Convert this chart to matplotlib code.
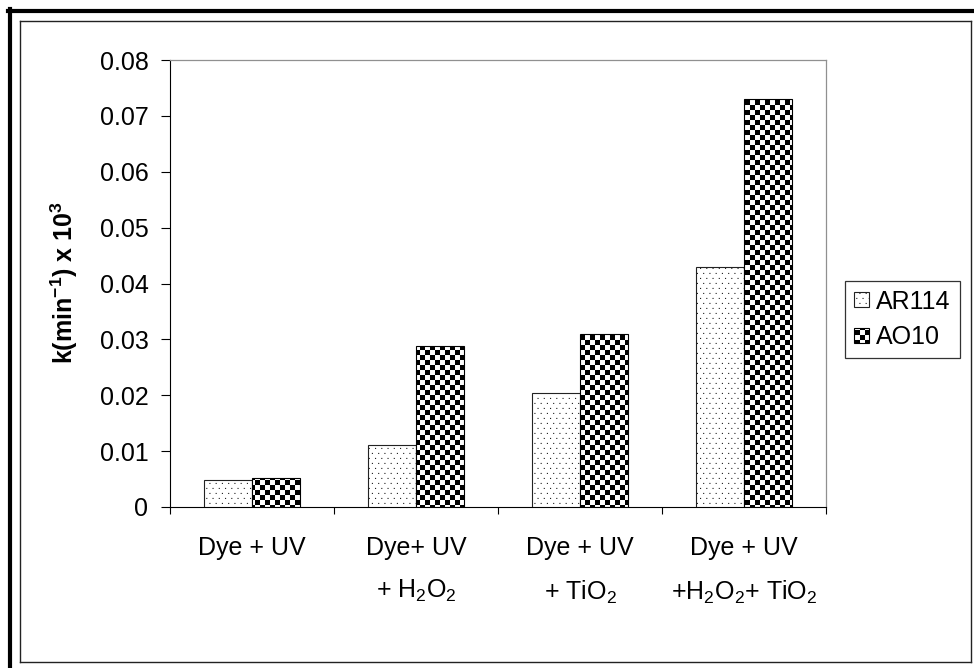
import warnings
warnings.filterwarnings("ignore")
import matplotlib
matplotlib.use("Agg")
import matplotlib.pyplot as plt
import matplotlib.hatch as mhatch
from matplotlib.path import Path
from matplotlib.lines import Line2D
import numpy as np

# ---------------- data ----------------
categories = ["Dye + UV",
              "Dye+ UV\n+ H$_2$O$_2$",
              "Dye + UV\n+ TiO$_2$",
              "Dye + UV\n+H$_2$O$_2$+ TiO$_2$"]
series_names = ["AR114", "AO10"]
ar114 = [0.0049, 0.0111, 0.0204, 0.0429]
ao10 = [0.0052, 0.0288, 0.0309, 0.0731]
yticks = [0, 0.01, 0.02, 0.03, 0.04, 0.05, 0.06, 0.07, 0.08]
ytick_labels = ["0", "0.01", "0.02", "0.03", "0.04", "0.05", "0.06", "0.07", "0.08"]
ylabel = r"k(min$^{\mathbf{-1}}$) x 10$^{\mathbf{3}}$"

# ---------------- custom hatch patterns ----------------
class CheckerHatch(mhatch.HatchPatternBase):
    N = 20
    def __init__(self, hatch, density):
        n = hatch.count('C')
        self.cells = ([(i, j) for i in range(self.N) for j in range(self.N)
                       if (i + j) % 2 == 0] if n else [])
        self.num_vertices = len(self.cells) * 5

    def set_vertices_and_codes(self, vertices, codes):
        s = 1.0 / self.N
        k = 0
        for (i, j) in self.cells:
            x0, y0 = i * s, j * s
            vertices[k:k + 5] = [(x0, y0), (x0 + s, y0), (x0 + s, y0 + s),
                                 (x0, y0 + s), (x0, y0)]
            codes[k:k + 5] = [Path.MOVETO, Path.LINETO, Path.LINETO,
                              Path.LINETO, Path.CLOSEPOLY]
            k += 5


class DotHatch(mhatch.HatchPatternBase):
    ROWS = 20
    COLS = 16
    D = 0.011
    def __init__(self, hatch, density):
        n = hatch.count('D')
        pts = []
        if n:
            for j in range(self.ROWS):
                off = 0.5 / self.COLS if j % 2 else 0.0
                for i in range(self.COLS):
                    pts.append((i / self.COLS + off, j / self.ROWS + 0.01))
        self.pts = pts
        self.num_vertices = len(pts) * 5

    def set_vertices_and_codes(self, vertices, codes):
        d = self.D
        k = 0
        for (x0, y0) in self.pts:
            vertices[k:k + 5] = [(x0, y0), (x0 + d, y0), (x0 + d, y0 + d),
                                 (x0, y0 + d), (x0, y0)]
            codes[k:k + 5] = [Path.MOVETO, Path.LINETO, Path.LINETO,
                              Path.LINETO, Path.CLOSEPOLY]
            k += 5


mhatch._hatch_types.append(CheckerHatch)
mhatch._hatch_types.append(DotHatch)

# ---------------- style ----------------
plt.rcParams['font.family'] = ['Liberation Sans', 'DejaVu Sans']
plt.rcParams['mathtext.fontset'] = 'custom'
plt.rcParams['mathtext.rm'] = 'Liberation Sans'
plt.rcParams['mathtext.it'] = 'Liberation Sans:italic'
plt.rcParams['mathtext.bf'] = 'Liberation Sans:bold'
plt.rcParams['mathtext.default'] = 'regular'
plt.rcParams['hatch.linewidth'] = 0.01

W, H = 974, 668
fig = plt.figure(figsize=(W / 100, H / 100), dpi=100)
fig.patch.set_facecolor('white')

def fx(px):
    return px / W

def fy(py):
    return 1 - py / H

ax = fig.add_axes([fx(170), fy(507), (826 - 170) / W, (507 - 60) / H])

x = np.arange(len(categories))
bw = 0.29
b1 = ax.bar(x - bw / 2, ar114, bw, facecolor='white', edgecolor='#222222',
            linewidth=0.8, hatch='D', label=series_names[0], zorder=3)
b2 = ax.bar(x + bw / 2, ao10, bw, facecolor='white', edgecolor='black',
            linewidth=0.8, hatch='C', label=series_names[1], zorder=3)

ax.set_xlim(-0.5, len(categories) - 0.5)
ax.set_ylim(0, 0.08)
ax.set_yticks(yticks)
ax.set_yticklabels(ytick_labels, fontsize=18)
ax.tick_params(axis='y', direction='out', length=6.5, width=0.8, pad=9)

ax.set_xticks(np.arange(len(categories) + 1) - 0.5)
ax.set_xticklabels([])
ax.set_xticks(x, minor=True)
ax.set_xticklabels(categories, minor=True, fontsize=18, linespacing=1.9,
                   multialignment='center')
ax.tick_params(axis='x', which='major', direction='out', length=5, width=0.8)
ax.tick_params(axis='x', which='minor', length=0, pad=21)

for s in ['top', 'right']:
    ax.spines[s].set_color('#909090')
    ax.spines[s].set_linewidth(0.9)
for s in ['left', 'bottom']:
    ax.spines[s].set_color('black')
    ax.spines[s].set_linewidth(0.8)

fig.text(fx(64), fy(283), ylabel, rotation=90, ha='center', va='center',
         fontsize=18, fontweight='bold')

leg = ax.legend(loc='upper left', bbox_to_anchor=(fx(845), fy(281)),
                bbox_transform=fig.transFigure, fontsize=18, frameon=True,
                fancybox=False, borderaxespad=0, borderpad=0.35,
                handlelength=0.6, handleheight=0.55, handletextpad=0.3,
                labelspacing=0.45)
leg.get_frame().set_edgecolor('black')
leg.get_frame().set_linewidth(0.9)

# ---------------- outer frames ----------------
fig.add_artist(Line2D([fx(10), fx(10)], [fy(9), fy(668)], color='black',
                      linewidth=3, transform=fig.transFigure))
fig.add_artist(Line2D([fx(8), fx(974)], [fy(11), fy(11)], color='black',
                      linewidth=3, transform=fig.transFigure))
for (xa, xb, ya, yb) in [(20, 20, 21, 662), (20, 971, 21, 21),
                         (20, 971, 662, 662), (971, 971, 21, 662)]:
    fig.add_artist(Line2D([fx(xa), fx(xb)], [fy(ya), fy(yb)], color='#222222',
                          linewidth=1.0, transform=fig.transFigure))

fig.savefig('out.png', dpi=100)
